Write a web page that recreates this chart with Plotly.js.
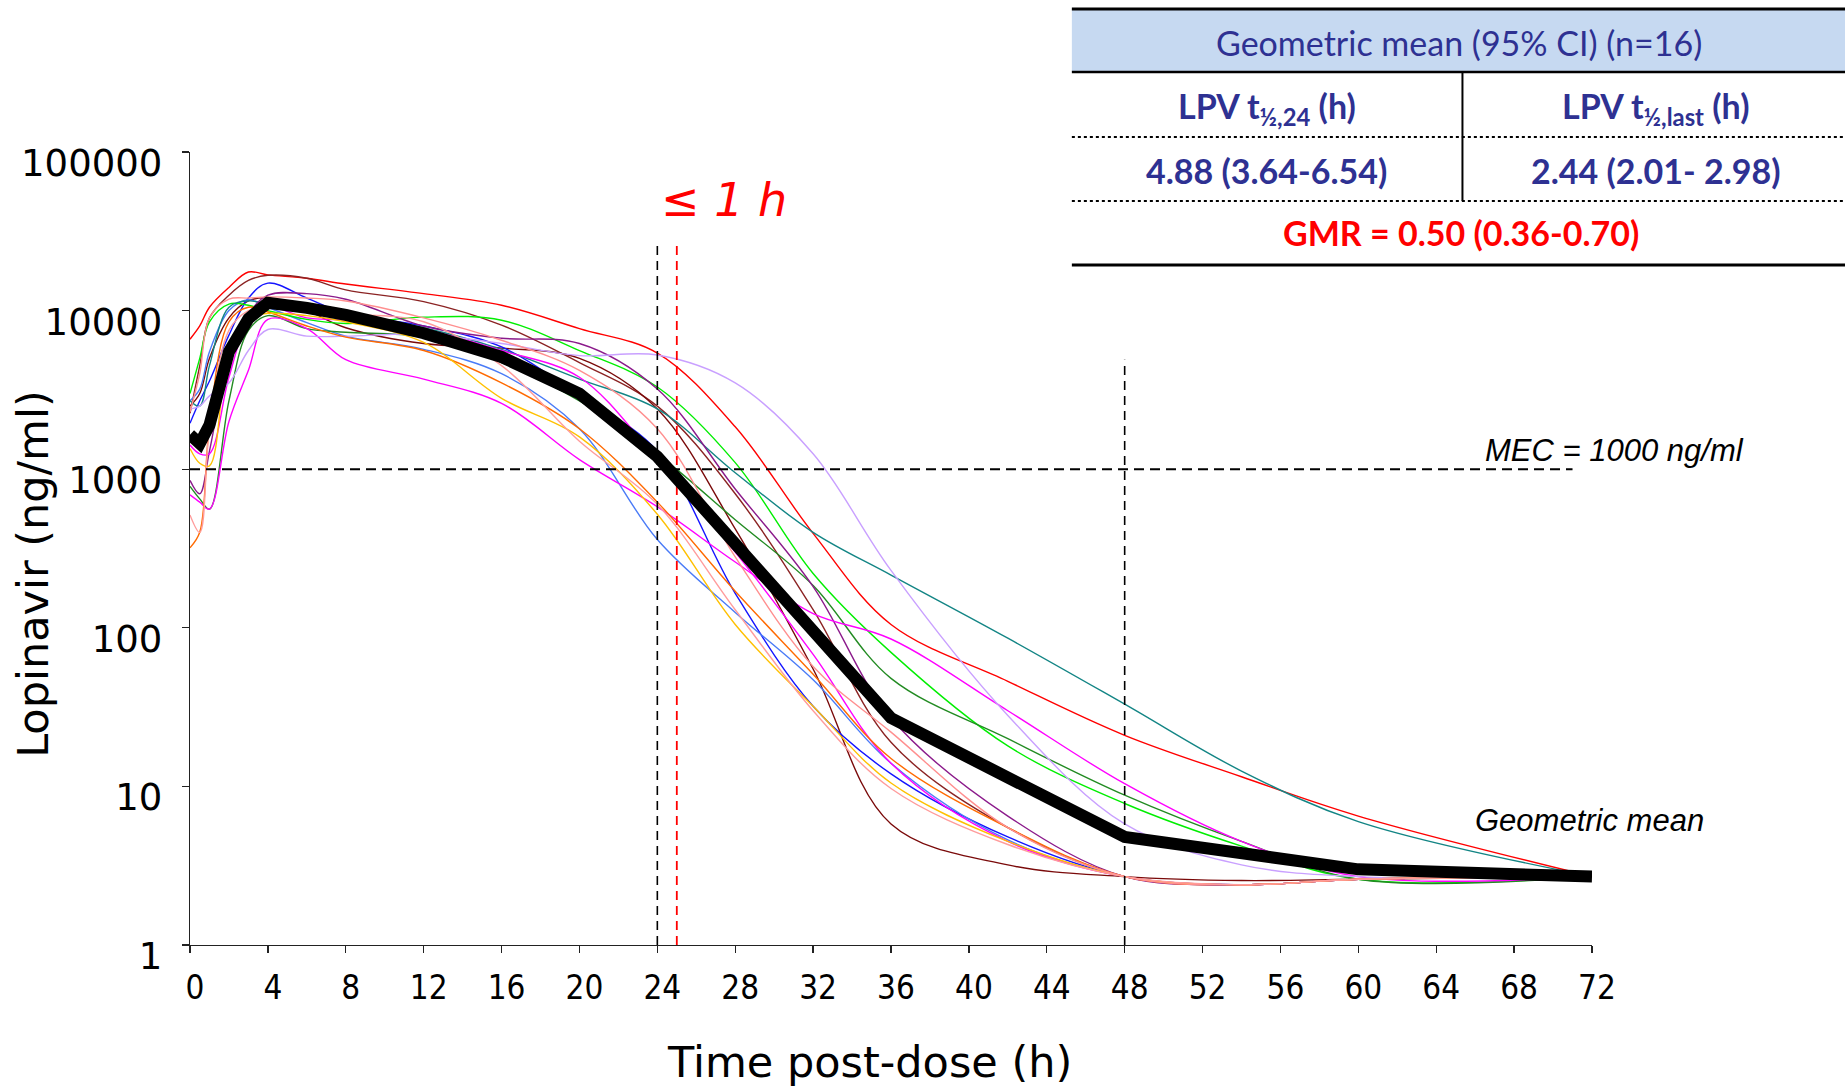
<!DOCTYPE html>
<html>
<head>
<meta charset="utf-8">
<script src="https://cdn.plot.ly/plotly-3.0.1.min.js"></script>
<style>html,body{margin:0;padding:0;background:#fff;}#chart{width:1845px;height:1087px;}</style>
</head>
<body>
<div id="chart"></div>
<script>
// ---- data ----
const times = [0, 0.5, 1, 2, 3, 4, 6, 8, 12, 16, 20, 24, 28, 32, 36, 42, 48, 54, 60, 72];

const red        = [6600, 8000, 10500, 14000, 17500, 16800, 16000, 14700, 12800, 10800, 7700, 5400, 1850, 394, 105, 46, 21, 11.5, 6.5, 2.7];
const brown1     = [2250, 4500, 9000, 12500, 15500, 16700, 16000, 13500, 11400, 8100, 4700, 2500, 700, 130, 19, 5.5, 2.7, 2.4, 2.6, 2.7];
const brown2     = [2500, 3000, 5000, 9000, 11500, 12000, 10000, 7800, 6200, 5800, 5000, 2400, 420, 55, 5.8, 3.2, 2.7, 2.55, 2.6, 2.7];
const blue       = [1950, 2700, 3600, 7000, 12000, 14900, 12000, 9600, 8000, 5900, 2900, 1300, 165, 32, 12, 4.8, 2.7, 2.4, 2.6, 2.7];
const cornflower = [2700, 3200, 5500, 10000, 11700, 10500, 8400, 6900, 5700, 4000, 1800, 360, 125, 47, 14, 4.6, 2.7, 2.4, 2.6, 2.7];
const lime       = [3000, 5000, 8500, 11000, 10800, 10000, 8800, 8300, 9100, 8700, 5600, 3300, 1100, 220, 70, 18, 7.8, 4.2, 2.6, 2.7];
const darkGreen  = [780, 650, 560, 2700, 7500, 9300, 7700, 7300, 6800, 4700, 2700, 1250, 480, 185, 48, 20, 8.8, 4.5, 2.6, 2.7];
const teal       = [2700, 2500, 4500, 10500, 11500, 11000, 10300, 9500, 7800, 5700, 3700, 2400, 950, 400, 215, 86, 33, 12.5, 6, 2.7];
const purple     = [850, 700, 1300, 5000, 9500, 12500, 12800, 11800, 8000, 6700, 6200, 3200, 750, 182, 27, 6.5, 2.7, 2.4, 2.6, 2.7];
const magenta1   = [690, 620, 560, 2000, 4200, 8800, 7700, 4900, 3700, 2600, 1150, 580, 260, 123, 85, 30, 10.4, 4.5, 2.7, 2.7];
const magenta2   = [1420, 1250, 1250, 3800, 8500, 10500, 9000, 8700, 7600, 5600, 3800, 1150, 300, 68, 14, 4.5, 2.7, 2.4, 2.6, 2.7];
const lavender   = [2400, 2500, 2900, 3500, 5600, 7600, 6900, 6900, 7100, 6200, 5200, 5250, 3500, 1250, 230, 28, 5.8, 3.2, 2.7, 2.7];
const orange     = [320, 400, 1900, 8500, 10500, 9800, 8000, 6800, 5600, 3500, 1800, 620, 170, 51, 15, 5.5, 2.7, 2.4, 2.6, 2.7];
const gold       = [1350, 1090, 1050, 5500, 9000, 9600, 9300, 8500, 6300, 2800, 1600, 520, 105, 32, 10.5, 4.5, 2.7, 2.4, 2.6, 2.7];
const salmon1    = [2300, 4000, 9000, 11800, 12000, 12200, 12000, 11500, 9000, 6500, 4200, 1800, 280, 57, 22, 5.5, 2.7, 2.4, 2.6, 2.7];
const salmon2    = [515, 400, 1800, 7500, 10000, 10500, 10000, 9500, 8500, 4500, 1500, 600, 130, 30, 9.7, 4.3, 2.7, 2.4, 2.6, 2.7];

const meanTimes  = [0, 0.5, 1, 2, 3, 4, 6, 8, 12, 16, 20, 24, 36, 48, 60, 72];
const geoMean    = [1650, 1450, 1900, 5500, 8900, 11200, 10400, 9400, 7200, 5100, 3000, 1200, 27, 4.8, 3.0, 2.7];

const mecValue = 1000;
const mecX = [0, 71];
const cutoff24 = 24, cutoff25 = 25, cutoff48 = 48;
const vLineTop24 = 27500, vLineTop48 = 4900, axisBottom = 1;

const xTickVals = [0, 4, 8, 12, 16, 20, 24, 28, 32, 36, 40, 44, 48, 52, 56, 60, 64, 68, 72];
const yTickVals = [1, 10, 100, 1000, 10000, 100000];
const yTickLabels = ['1', '10', '100', '1000', '10000', '100000'];

const xTitle = 'Time post-dose (h)';
const yTitle = 'Lopinavir (ng/ml)';
const tableHeader = 'Geometric mean (95% CI) (n=16)';
const colHead1 = 'LPV t<sub>½,24</sub> (h)';
const colHead2 = 'LPV t<sub>½,last</sub> (h)';
const colVal1 = '4.88 (3.64-6.54)';
const colVal2 = '2.44 (2.01- 2.98)';
const gmrText = 'GMR = 0.50 (0.36-0.70)';

// ---- traces ----
const individuals = [
  {y: red, c: '#FF0000'}, {y: brown1, c: '#8B2323'}, {y: brown2, c: '#7A0A0A'},
  {y: blue, c: '#1414FF'}, {y: cornflower, c: '#4A7BF7'}, {y: lime, c: '#00EE00'},
  {y: darkGreen, c: '#228B22'}, {y: teal, c: '#138585'}, {y: purple, c: '#8B1A8B'},
  {y: magenta1, c: '#FF00FF'}, {y: magenta2, c: '#FF00FF'}, {y: lavender, c: '#C9A0FF'},
  {y: orange, c: '#FF6A00'}, {y: gold, c: '#FFC000'}, {y: salmon1, c: '#FF8F8F'},
  {y: salmon2, c: '#FF9C9C'}
];

const traces = individuals.map((s, i) => ({
  type: 'scatter', mode: 'lines', x: times, y: s.y, name: 'Patient ' + (i + 1),
  line: {color: s.c, width: 1.4, shape: 'spline', smoothing: 1}, hoverinfo: 'skip'
}));

const dashStyle = '9px,6px';
traces.push({type: 'scatter', mode: 'lines', x: mecX, y: [mecValue, mecValue], name: 'MEC',
  line: {color: '#000', width: 2, dash: '10px,6px'}, hoverinfo: 'skip'});
traces.push({type: 'scatter', mode: 'lines', x: [cutoff24, cutoff24], y: [axisBottom, vLineTop24], name: '24 h',
  line: {color: '#000', width: 1.6, dash: dashStyle}, hoverinfo: 'skip'});
traces.push({type: 'scatter', mode: 'lines', x: [cutoff25, cutoff25], y: [axisBottom, vLineTop24], name: '25 h',
  line: {color: '#FF0000', width: 1.8, dash: dashStyle}, hoverinfo: 'skip'});
traces.push({type: 'scatter', mode: 'lines', x: [cutoff48, cutoff48], y: [axisBottom, vLineTop48], name: '48 h',
  line: {color: '#000', width: 1.6, dash: dashStyle}, hoverinfo: 'skip'});

traces.push({type: 'scatter', mode: 'lines', x: meanTimes, y: geoMean, name: 'Geometric mean',
  line: {color: '#000', width: 12}, hoverinfo: 'skip'});

// ---- table geometry (paper coordinates) ----
const tL = 0.629, tR = 1.181, tTop = 1.1803, tHeadBot = 1.1009, tRow2 = 1.0189, tRow3 = 0.9382, tBot = 0.8575, tMid = 0.9076;
const shapes = [
  {type: 'rect', xref: 'paper', yref: 'paper', x0: tL, x1: tR, y0: tHeadBot, y1: tTop, fillcolor: '#C6D9F1', line: {width: 0}},
  {type: 'line', xref: 'paper', yref: 'paper', x0: tL, x1: tR, y0: tTop, y1: tTop, line: {color: '#000', width: 3}},
  {type: 'line', xref: 'paper', yref: 'paper', x0: tL, x1: tR, y0: tHeadBot, y1: tHeadBot, line: {color: '#000', width: 2.5}},
  {type: 'line', xref: 'paper', yref: 'paper', x0: tL, x1: tR, y0: tRow2, y1: tRow2, line: {color: '#000', width: 2, dash: 'dot'}},
  {type: 'line', xref: 'paper', yref: 'paper', x0: tL, x1: tR, y0: tRow3, y1: tRow3, line: {color: '#000', width: 2, dash: 'dot'}},
  {type: 'line', xref: 'paper', yref: 'paper', x0: tL, x1: tR, y0: tBot, y1: tBot, line: {color: '#000', width: 3}},
  {type: 'line', xref: 'paper', yref: 'paper', x0: tMid, x1: tMid, y0: tRow3, y1: tHeadBot, line: {color: '#000', width: 2}}
];

const navy = '#2E3192';
const tblFont = 'Lato, "Open Sans", sans-serif';
const annotations = [
  {xref: 'paper', yref: 'paper', x: 0.905, y: 1.1375, text: tableHeader, showarrow: false,
   font: {family: tblFont, size: 34, color: navy}, xanchor: 'center', yanchor: 'middle'},
  {xref: 'paper', yref: 'paper', x: 0.768, y: 1.0555, text: '<b>' + colHead1 + '</b>', showarrow: false,
   font: {family: tblFont, size: 34, color: navy}, xanchor: 'center', yanchor: 'middle'},
  {xref: 'paper', yref: 'paper', x: 1.0456, y: 1.0555, text: '<b>' + colHead2 + '</b>', showarrow: false,
   font: {family: tblFont, size: 34, color: navy}, xanchor: 'center', yanchor: 'middle'},
  {xref: 'paper', yref: 'paper', x: 0.768, y: 0.9773, text: '<b>' + colVal1 + '</b>', showarrow: false,
   font: {family: tblFont, size: 34, color: navy}, xanchor: 'center', yanchor: 'middle'},
  {xref: 'paper', yref: 'paper', x: 1.0456, y: 0.9773, text: '<b>' + colVal2 + '</b>', showarrow: false,
   font: {family: tblFont, size: 34, color: navy}, xanchor: 'center', yanchor: 'middle'},
  {xref: 'paper', yref: 'paper', x: 0.9066, y: 0.8979, text: '<b>' + gmrText + '</b>', showarrow: false,
   font: {family: tblFont, size: 34, color: '#FF0000'}, xanchor: 'center', yanchor: 'middle'},
  // chart annotations
  {xref: 'paper', yref: 'paper', x: 0.381, y: 0.9395, text: '<i>≤ 1 h</i>', showarrow: false,
   font: {family: 'DejaVu Sans, sans-serif', size: 46, color: '#FF0000'}, xanchor: 'center', yanchor: 'middle'},
  {xref: 'paper', yref: 'paper', x: 1.1098, y: 0.623, text: '<i>MEC = 1000 ng/ml</i>', showarrow: false,
   font: {family: '"Liberation Sans", Arial, sans-serif', size: 31, color: '#000'}, xanchor: 'right', yanchor: 'middle'},
  {xref: 'paper', yref: 'paper', x: 1.0813, y: 0.1576, text: '<i>Geometric mean</i>', showarrow: false,
   font: {family: '"Liberation Sans", Arial, sans-serif', size: 31, color: '#000'}, xanchor: 'right', yanchor: 'middle'},
  // axis titles
  {xref: 'paper', yref: 'paper', x: -0.112, y: 0.468, text: yTitle, showarrow: false, textangle: -90,
   font: {family: 'DejaVu Sans, sans-serif', size: 43, color: '#000'}, xanchor: 'center', yanchor: 'middle'},
  {xref: 'paper', yref: 'paper', x: 0.485, y: -0.148, text: xTitle, showarrow: false,
   font: {family: 'DejaVu Sans, sans-serif', size: 43, color: '#000'}, xanchor: 'center', yanchor: 'middle'}
];

const layout = {
  width: 1845, height: 1087,
  margin: {l: 190, r: 253, t: 152, b: 142},
  paper_bgcolor: '#FFFFFF', plot_bgcolor: '#FFFFFF',
  showlegend: false,
  xaxis: {
    range: [0, 72], tickvals: xTickVals, ticktext: xTickVals.map(String),
    showline: true, linecolor: '#222', linewidth: 1.3, ticks: 'outside', ticklen: 7, tickcolor: '#222', tickwidth: 1.3,
    showgrid: false, zeroline: false, ticklabelstandoff: 6, ticklabelshift: 5,
    tickfont: {family: '"DejaVu Sans Condensed", "DejaVu Sans", sans-serif', size: 33, color: '#000'}
  },
  yaxis: {
    type: 'log', range: [0, 5], tickvals: yTickVals, ticktext: yTickLabels,
    showline: true, linecolor: '#222', linewidth: 1.3, ticks: 'outside', ticklen: 7, tickcolor: '#222', tickwidth: 1.3,
    showgrid: false, zeroline: false, ticklabelstandoff: 12, ticklabelshift: 11,
    tickfont: {family: '"DejaVu Sans", sans-serif', size: 37, color: '#000'}
  },
  shapes: shapes,
  annotations: annotations
};

Plotly.newPlot('chart', traces, layout, {staticPlot: true, displayModeBar: false});
</script>
</body>
</html>
